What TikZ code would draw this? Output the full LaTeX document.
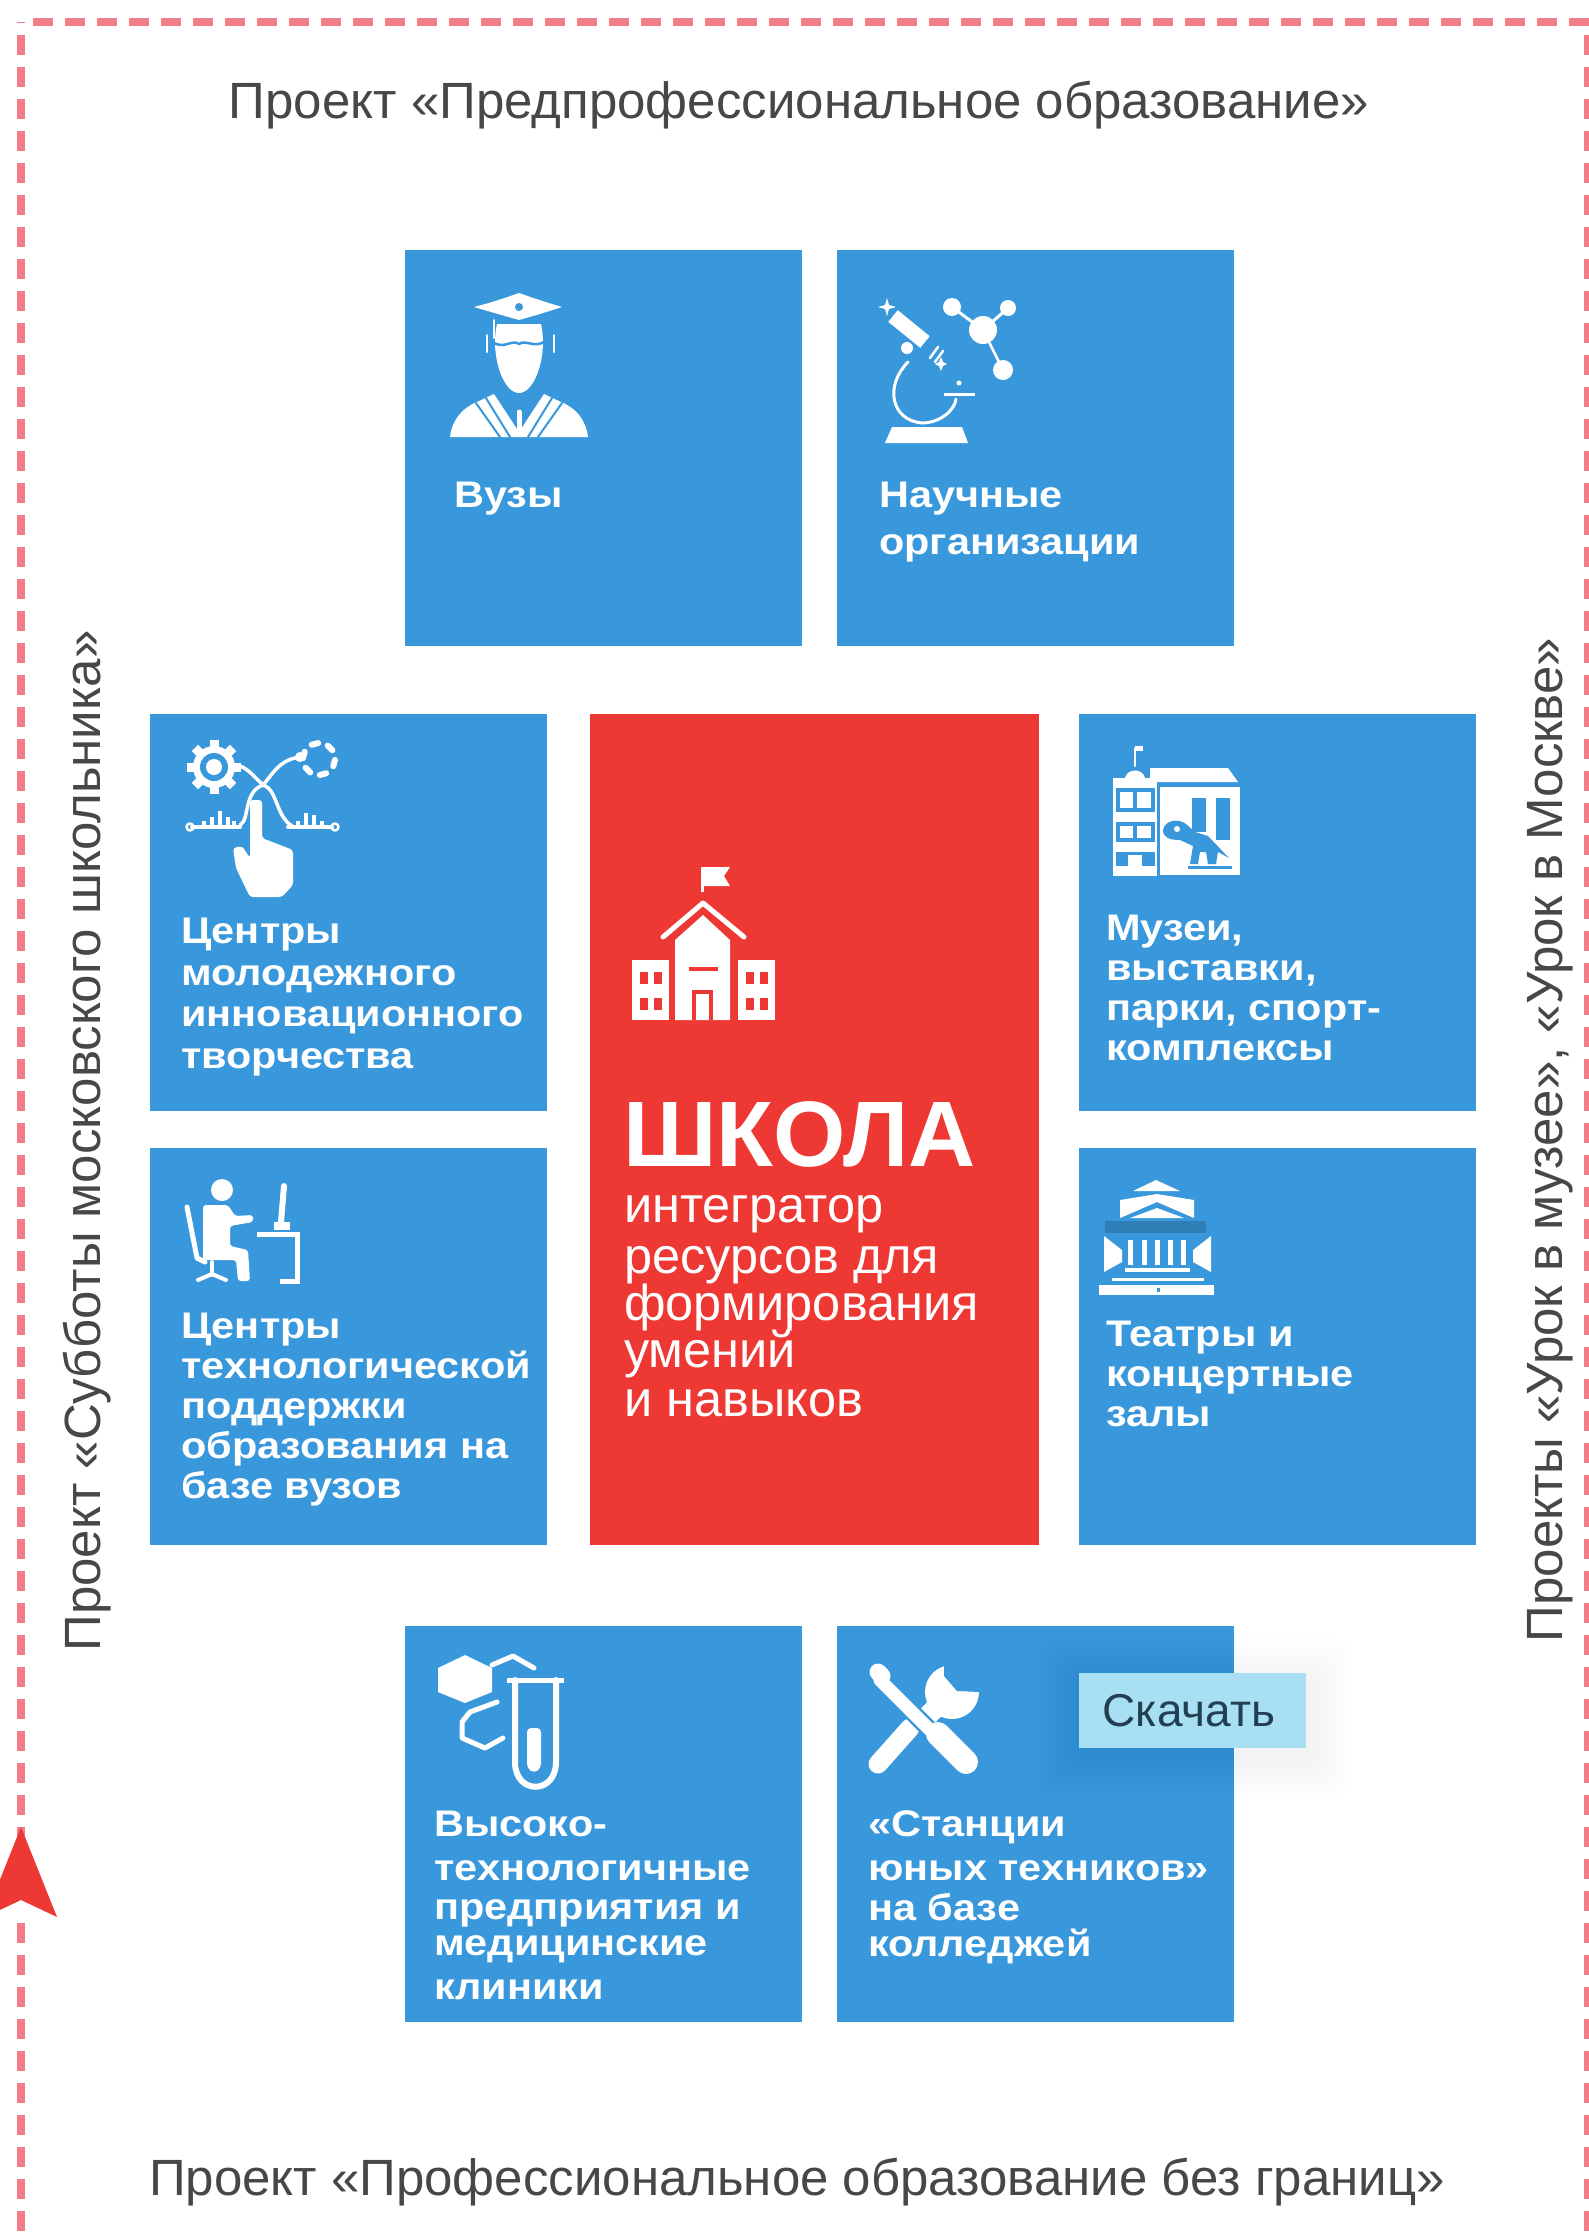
\documentclass[tikz,border=0pt]{standalone}
\usepackage{fontspec}
\setmainfont{Liberation Sans}
\newfontfamily\boxfont[FakeStretch=1.12]{Liberation Sans}
\definecolor{cblue}{HTML}{3998DB}
\definecolor{cred}{HTML}{EE3833}
\definecolor{cdash}{HTML}{F27C88}
\definecolor{ctip}{HTML}{A8DFF3}
\definecolor{ctext}{HTML}{474747}
\definecolor{cdark}{HTML}{2F7FB6}
\definecolor{ctiptext}{HTML}{22404F}
\tikzset{
  tile/.style={fill=cblue,draw=none},
  redtile/.style={fill=cred,draw=none},
  tiletext/.style={anchor=north west,inner sep=0pt,text=white,align=left,font=\boxfont\bfseries\fontsize{37}{40}\selectfont},
  schooltext/.style={anchor=north west,inner sep=0pt,text=white,align=left,font=\fontsize{50.5}{48}\selectfont},
  title/.style={inner sep=0pt,text=ctext,font=\fontsize{51}{53}\selectfont},
  dashline/.style={draw=cdash,line width=8pt,dash pattern=on 20pt off 12pt},
  wl/.style={draw=white,line cap=round,line join=round},
  bl/.style={draw=cblue,line cap=round,line join=round}
}
\begin{document}
\begin{tikzpicture}[x=1pt,y=-1pt]
\useasboundingbox (0,0) rectangle (1589,2239);
\clip (0,0) rectangle (1589,2239);
% dashed frame
\draw[dashline,dash phase=20pt] (21,22) -- (1589,22);
\draw[dashline,dash phase=19pt] (21,22) -- (21,2239);
\draw[dashline,dash phase=19pt] (1588,22) -- (1588,2239);
% arrow
\fill[white] (14,1895) rectangle (28,1921);
\fill[cred] (21,1827) -- (57,1917) -- (21,1900) -- (-15,1917) -- cycle;
% tiles
\fill[tile] (405,250) rectangle (802,646);
\fill[tile] (837,250) rectangle (1234,646);
\fill[tile] (150,714) rectangle (547,1111);
\fill[tile] (150,1148) rectangle (547,1545);
\fill[redtile] (590,714) rectangle (1039,1545);
\fill[tile] (1079,714) rectangle (1476,1111);
\fill[tile] (1079,1148) rectangle (1476,1545);
\fill[tile] (405,1626) rectangle (802,2022);
\fill[tile] (837,1626) rectangle (1234,2022);
% titles
\node[title] (ttop) at (799,105) {Проект «Предпрофессиональное образование»};
\node[title] (tbot) at (797,2182) {Проект «Профессиональное образование без границ»};
\node[title,rotate=90] (tleft) at (87,1141) {Проект «Субботы московского школьника»};
\node[title,rotate=90] (tright) at (1550,1140) {Проекты «Урок в музее», «Урок в Москве»};
% tile texts
\node[tiletext] (t1) at (454,482) {Вузы};
\node[tiletext] (t2) at (879,482) {Научные\\[7pt]организации};
\node[tiletext] (t3) at (181,918) {Центры\\[1.5pt]молодежного\\[1.5pt]инновационного\\[1.5pt]творчества};
\node[tiletext] (t4) at (181,1313) {Центры\\технологической\\поддержки\\образования на\\базе вузов};
\node[tiletext] (t5) at (1106,915) {Музеи,\\выставки,\\парки, спорт-\\комплексы};
\node[tiletext] (t6) at (1106,1321) {Театры и\\концертные\\залы};
\node[tiletext] (t7) at (434,1811) {Высоко-\\[4pt]технологичные\\[-1pt]предприятия и\\[-4pt]медицинские\\[4pt]клиники};
\node[tiletext] (t8) at (868,1810) {«Станции\\[4pt]юных техников»\\[0pt]на базе\\[-4pt]колледжей};
\node[anchor=north west,inner sep=0pt,text=white,font=\bfseries\fontsize{93}{93}\selectfont] (school) at (623,1101) {ШКОЛА};
\node[schooltext] (t9) at (624,1195) {интегратор\\[3pt]ресурсов для\\[-1pt]формирования\\[-1pt]умений\\[1pt]и навыков};
% graduate icon
\fill[white] (474,307) .. controls (490,303) and (505,298) .. (519,293) .. controls (533,298) and (548,303) .. (562,307) -- (540,314) -- (519,320) -- (498,314) -- cycle;
\fill[cblue] (519,307) circle (4);
\fill[white] (497,324) -- (541,324) .. controls (548,355) and (535,393) .. (519,393) .. controls (503,393) and (490,355) .. (497,324) -- cycle;
\draw[bl,line width=2.5pt] (494,343) .. controls (505,349) and (512,339) .. (519,344) .. controls (526,339) and (535,349) .. (545,341);
\draw[wl,line width=2pt] (487,335) -- (487,352);
\draw[wl,line width=2pt] (554,335) -- (554,352);
\draw[wl,line width=2pt] (494,320) -- (494,338);
\fill[white] (450,437) .. controls (452,420) and (462,408) .. (477,402) -- (494,394) -- (519,432) -- (544,394) -- (561,402) .. controls (576,408) and (586,420) .. (588,437) -- cycle;
\draw[bl,line width=2pt] (476,403) -- (500,437);
\draw[bl,line width=2pt] (486,398) -- (510,437);
\draw[bl,line width=2pt] (562,403) -- (538,437);
\draw[bl,line width=2pt] (552,398) -- (528,437);
\draw[wl,line width=5pt] (519,412) -- (519,434);
% microscope icon
\draw[wl,line width=3pt] (952,307) -- (983,330) -- (1008,308);
\draw[wl,line width=2.5pt] (983,330) -- (1003,370);
\fill[white] (952,307) circle (9);
\fill[white] (1008,308) circle (8);
\fill[white] (1003,370) circle (10);
\fill[white] (983,330) circle (14);
\draw[wl,line width=15pt,line cap=butt] (893,316) -- (925,342);
\fill[white] (907,348) circle (6);
\draw[wl,line width=2.5pt] (930,358) -- (938,347);
\draw[wl,line width=2.5pt] (935,362) -- (943,351);
\draw[wl,line width=3pt] (908,362) .. controls (885,385) and (890,420) .. (922,423) .. controls (940,423) and (955,410) .. (956,399);
\fill[white] (892,427) -- (962,427) -- (968,443) -- (885,443) -- cycle;
\draw[wl,line width=3pt,line cap=butt] (944,394) -- (975,394);
\fill[white] (959,383) circle (2.5);
\fill[white] (887,298) -- (889,305) -- (896,307) -- (889,309) -- (887,316) -- (885,309) -- (878,307) -- (885,305) -- cycle;
\fill[white] (941,357) -- (943,362) -- (947,364) -- (943,366) -- (941,371) -- (939,366) -- (935,364) -- (939,362) -- cycle;
% innovation icon
\foreach \a in {0,45,...,315} \draw[white,line width=9pt] ({214+18*cos(\a)},{767+18*sin(\a)}) -- ({214+27*cos(\a)},{767+27*sin(\a)});
\fill[white] (214,767) circle (21);
\fill[cblue] (214,767) circle (14);
\fill[white] (214,767) circle (8);
\foreach \a in {15,75,135,195,255,315} \draw[wl,line width=6pt] ({319+16*cos(\a-12)},{759+16*sin(\a-12)}) -- ({319+16*cos(\a+12)},{759+16*sin(\a+12)});
\draw[wl,line width=3.5pt] (240,766) .. controls (250,770) and (255,778) .. (263,785) .. controls (272,775) and (278,762) .. (295,758) -- (300,757);
\fill[white] (300,757) circle (5);
\draw[wl,line width=3.5pt] (240,825) .. controls (250,820) and (243,792) .. (263,785) .. controls (278,790) and (275,815) .. (292,826);
\draw[wl,line width=4pt] (192,827) -- (240,827);
\draw[wl,line width=4pt] (288,827) -- (332,827);
\draw[wl,line width=2.5pt] (190,827) circle (3.5);
\draw[wl,line width=2.5pt] (335,827) circle (3.5);
\foreach \p/\h in {204/6,212/10,220/16,228/10,234/6,298/6,306/14,314/12,322/6} \draw[wl,line width=4pt,line cap=butt] (\p,827) -- (\p,827-\h);
\fill[white,rounded corners=3pt] (250,800) -- (262,800) -- (262,838) -- (293,850) -- (293,885) -- (282,897) -- (250,897) -- (236,868) -- (233,848) -- (242,846) -- (250,858) -- cycle;
% desk person icon
\fill[white] (222,1190) circle (11);
\fill[white,rounded corners=3pt] (203,1205) -- (228,1205) -- (235,1216) -- (253,1215) -- (253,1222) -- (230,1226) -- (230,1246) -- (248,1250) -- (250,1281) -- (238,1281) -- (236,1260) -- (203,1260) -- cycle;
\draw[wl,line width=5pt] (187,1207) -- (197,1258) -- (205,1262);
\draw[wl,line width=4pt] (212,1262) -- (212,1275);
\draw[wl,line width=4pt] (198,1280) -- (212,1274) -- (226,1280);
\draw[wl,line width=5pt,line cap=butt,line join=miter] (257,1234) -- (297,1234) -- (297,1281) -- (280,1281);
\draw[wl,line width=6pt] (284,1186) -- (281,1222);
\fill[white] (274,1222) rectangle (290,1230);
% school icon
\draw[white,line width=3pt] (702,892) -- (702,867);
\fill[white] (702,867) -- (730,867) -- (724,876) -- (730,886) -- (702,886) -- cycle;
\fill[white] (703,915) -- (730,940) -- (730,1020) -- (675,1020) -- (675,940) -- cycle;
\draw[wl,line width=5pt] (663,937) -- (703,903) -- (744,937);
\fill[cred] (692,990) rectangle (713,1020);
\fill[white] (696,994) rectangle (709,1020);
\fill[cred] (689,967) rectangle (718,971);
\fill[white] (632,960) rectangle (669,1020);
\fill[white] (738,960) rectangle (775,1020);
\foreach \x in {640,654,746,760} \foreach \y in {972,998} \fill[cred] (\x,\y) rectangle ++(8,12);
% museum icon
\fill[white] (1113,778) rectangle (1157,878);
\fill[white] (1125,778) .. controls (1127,768) and (1143,768) .. (1145,778) -- cycle;
\draw[wl,line width=2pt] (1135,766) -- (1135,748);
\fill[white] (1135,746) rectangle (1143,751);
\fill[cblue] (1116,788) rectangle (1155,812);
\fill[white] (1120,792) rectangle (1133,808);
\fill[white] (1137,792) rectangle (1151,808);
\fill[cblue] (1116,822) rectangle (1155,842);
\fill[white] (1120,826) rectangle (1133,838);
\fill[white] (1137,826) rectangle (1151,838);
\fill[cblue] (1116,852) rectangle (1155,866);
\fill[white] (1128,855) rectangle (1142,866);
\fill[white] (1150,768) -- (1228,768) -- (1238,782) -- (1150,782) -- cycle;
\fill[white] (1160,787) rectangle (1240,875);
\fill[cblue] (1192,798) rectangle (1206,832);
\fill[cblue] (1216,798) rectangle (1230,840);
\fill[cblue] (1163,830) .. controls (1165,820) and (1178,818) .. (1186,824) -- (1195,832) -- (1208,836) -- (1229,858) -- (1218,852) -- (1216,864) -- (1208,864) -- (1206,852) -- (1200,852) -- (1198,864) -- (1190,864) -- (1193,846) -- (1180,840) .. controls (1170,840) and (1163,838) .. (1163,830) -- cycle;
\fill[white] (1177,829) circle (3);
\fill[cblue] (1188,866) rectangle (1232,869);
\fill[cblue] (1113,876) rectangle (1240,878);
% theatre icon
\fill[white] (1133,1191) -- (1156,1180) -- (1180,1191) -- cycle;
\fill[white] (1120,1218) -- (1120,1200) -- (1157,1194) -- (1194,1200) -- (1194,1218) -- (1157,1202) -- cycle;
\fill[white] (1130,1218) -- (1157,1208) -- (1184,1218) -- cycle;
\fill[cdark] (1105,1221) rectangle (1206,1233);
\fill[white] (1104,1236) -- (1122,1250) -- (1122,1262) -- (1104,1272) -- cycle;
\fill[white] (1211,1236) -- (1193,1250) -- (1193,1262) -- (1211,1272) -- cycle;
\foreach \x in {1128,1142,1155,1168,1181} \fill[white] (\x,1240) rectangle ++(5,25);
\fill[white] (1125,1268) rectangle (1190,1272);
\fill[white] (1112,1278) rectangle (1204,1281);
\fill[white] (1099,1285) rectangle (1214,1295);
\fill[cblue] (1157,1288) rectangle (1160,1292);
% lab icon
\fill[white] (465,1655) -- (492,1668) -- (492,1692) -- (465,1703) -- (438,1692) -- (438,1668) -- cycle;
\draw[wl,line width=5pt] (492,1665) -- (513,1656) -- (534,1668);
\draw[wl,line width=5pt] (497,1702) -- (470,1712) -- (462,1722) -- (462,1738) -- (485,1748) -- (503,1738);
\draw[wl,line width=5pt,line cap=butt] (507,1680) -- (564,1680);
\draw[wl,line width=6pt] (515,1680) -- (515,1762) .. controls (515,1795) and (556,1795) .. (556,1762) -- (556,1680);
\fill[white,rounded corners=4pt] (527,1728) -- (541,1728) -- (541,1768) -- (534,1773) -- (527,1768) -- cycle;
% tools icon
\draw[wl,line width=19pt,line cap=round] (878,1764) -- (910,1728);
\fill[white] (952,1692) circle (27);
\draw[wl,line width=20pt,line cap=butt] (918,1726) -- (945,1698);
\fill[cblue] (944,1655) -- (944,1676) -- (957,1691) -- (980,1692) -- (995,1655) -- cycle;
\draw[bl,line width=18pt,line cap=butt] (880,1680) -- (945,1745);
\draw[wl,line width=13pt] (880,1680) -- (930,1730);
\draw[wl,line width=17pt] (878,1672) -- (882,1676);
\draw[wl,line width=24pt] (938,1734) -- (966,1762);
% tooltip
\foreach \i in {1,...,12} \fill[black,opacity=0.005,rounded corners=10pt] ({1079-3.5*\i},{1680-3.5*\i}) rectangle ({1306+3.5*\i},{1757+3.5*\i});
\fill[ctip] (1079,1673) rectangle (1306,1748);
\node[inner sep=0pt,text=ctiptext,font=\fontsize{46}{48}\selectfont] (tip) at (1189,1711) {Скачать};
\end{tikzpicture}
\end{document}
